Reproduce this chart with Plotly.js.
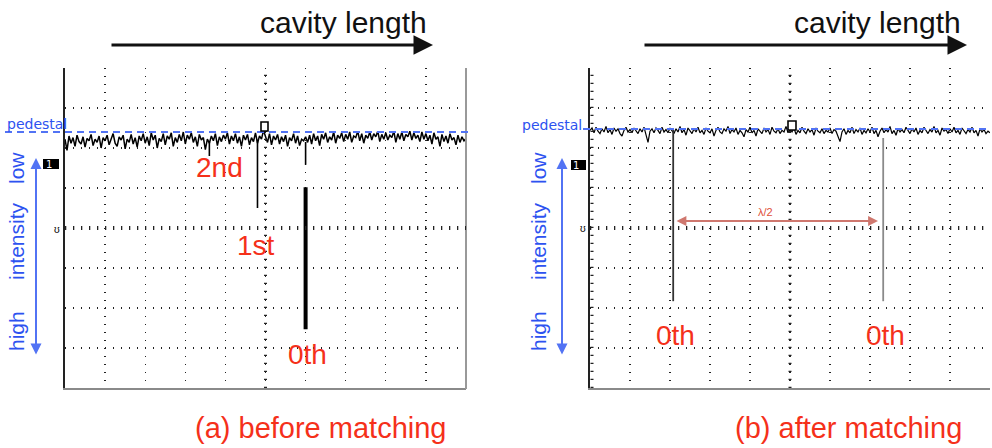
<!DOCTYPE html>
<html><head><meta charset="utf-8">
<script src="https://cdn.plot.ly/plotly-3.0.1.min.js"></script>
<style>html,body{margin:0;padding:0;background:#fff}#chart{width:992px;height:448px}</style>
</head><body><div id="chart"></div>
<script>
// ---------- data (oscilloscope divisions: x 0..10, y -4..4) ----------
const sampleStep = 0.05;
const traceBefore = [
 2.22,1.94,2.30,2.12,2.26,2.04,2.32,2.16,2.10,2.28,2.02,2.24,2.18,2.34,2.06,2.22,2.14,2.30,2.00,2.26,
 2.18,2.32,2.08,2.24,2.36,2.12,2.04,2.28,2.20,2.32,1.98,2.22,2.14,2.34,2.10,2.26,2.02,2.30,2.18,2.36,
 2.12,2.28,2.06,2.38,2.20,2.32,2.00,2.24,2.16,2.36,2.08,2.30,2.22,2.38,2.04,2.26,2.14,2.34,2.18,2.40,
 2.10,2.32,2.22,2.38,2.14,2.28,2.04,2.34,2.20,2.26,1.96,2.22,2.12,2.30,2.18,2.36,2.06,2.28,2.16,2.32,
 2.22,2.38,2.10,2.30,2.18,2.36,2.12,2.28,2.04,2.32,2.20,2.34,2.08,2.26,2.16,2.38,2.12,2.30,2.22,2.44,
 2.26,2.14,2.36,2.08,2.30,2.20,2.34,2.10,2.28,2.16,2.32,2.04,2.26,2.18,2.36,2.12,2.30,2.06,2.22,2.18,
 2.28,2.14,2.32,2.10,2.36,2.18,2.30,2.06,2.34,2.22,2.38,2.14,2.28,2.20,2.40,2.12,2.32,2.24,2.38,2.16,
 2.34,2.22,2.40,2.14,2.30,2.26,2.42,2.18,2.36,2.12,2.32,2.24,2.40,2.20,2.36,2.28,2.42,2.16,2.34,2.22,
 2.38,2.20,2.32,2.26,2.42,2.14,2.36,2.22,2.40,2.18,2.34,2.28,2.42,2.20,2.38,2.24,2.32,2.16,2.40,2.22,
 2.36,2.18,2.32,2.10,2.38,2.22,2.28,2.04,2.34,2.16,2.30,2.12,2.36,2.20,2.26,2.08,2.32,2.14,2.28,2.18,
 2.24
];
// resonance dips (before matching): 2nd, 1st, 0th (upper part), 0th (main)
const secondDipX = [3.6, 3.6];  const secondDipY = [2.15, 1.80];
const firstDipX  = [4.8, 4.8];  const firstDipY  = [2.20, 0.50];
const zerothTopX = [6.0, 6.0];  const zerothTopY = [2.15, 1.58];
const zerothBeforeX = [6.0, 6.0];
const zerothBeforeY = [1.02, -2.53];

const traceAfter = [
 2.44,2.50,2.38,2.52,2.42,2.36,2.48,2.40,2.54,2.38,2.46,2.34,2.50,2.42,2.48,2.36,2.30,2.44,2.52,2.40,
 2.46,2.38,2.50,2.42,2.36,2.48,2.40,2.52,2.34,2.14,2.42,2.48,2.38,2.50,2.44,2.36,2.52,2.40,2.46,2.38,
 2.50,2.42,2.36,2.48,2.40,2.54,2.38,2.46,2.32,2.50,2.42,2.36,2.48,2.40,2.52,2.38,2.44,2.34,2.50,2.42,
 2.38,2.48,2.30,2.44,2.52,2.40,2.36,2.48,2.42,2.54,2.36,2.46,2.40,2.50,2.34,2.44,2.38,2.28,2.46,2.40,
 2.52,2.38,2.44,2.30,2.48,2.42,2.36,2.50,2.40,2.46,2.34,2.52,2.42,2.38,2.48,2.36,2.44,2.40,2.54,2.38,
 2.46,2.40,2.50,2.34,2.44,2.38,2.52,2.42,2.36,2.48,2.40,2.46,2.32,2.50,2.42,2.38,2.48,2.36,2.44,2.40,
 2.50,2.36,2.46,2.42,2.30,2.16,2.40,2.48,2.34,2.44,2.38,2.52,2.36,2.46,2.40,2.50,2.34,2.44,2.38,2.48,
 2.40,2.52,2.36,2.44,2.28,2.42,2.50,2.38,2.46,2.40,2.54,2.36,2.44,2.32,2.48,2.40,2.46,2.38,2.52,2.42,
 2.36,2.48,2.40,2.50,2.34,2.44,2.38,2.52,2.42,2.36,2.46,2.40,2.54,2.38,2.44,2.32,2.50,2.42,2.46,2.36,
 2.48,2.40,2.52,2.38,2.44,2.34,2.50,2.42,2.36,2.46,2.40,2.52,2.38,2.44,2.30,2.48,2.40,2.46,2.36,2.42,
 2.38
];
const zerothAfterAX = [2.08, 2.08];
const zerothAfterAY = [2.45, -1.83];
const zerothAfterBX = [7.33, 7.33];
const zerothAfterBY = [2.25, -1.83];

const orderLabelsBefore = ["2nd", "1st", "0th"];
const orderLabelsAfter = ["0th", "0th"];
const panelTitles = ["(a) before matching", "(b) after matching"];
const topLabel = "cavity length";
const sideLabels = ["low", "intensity", "high"];

// ---------- layout helpers ----------
const W = 992, H = 448;
const px = v => v / W;
const py = v => 1 - v / H;
const RED = '#f5301a', BLUE = '#2d52f0', BLUE_ARROW = '#5273f4';
const FONT = 'Liberation Sans, Arial, sans-serif';

function seg(x, y, color, width, xa, ya) {
  return {x: x, y: y, type: 'scatter', mode: 'lines', line: {color: color, width: width}, xaxis: xa, yaxis: ya};
}
const traces = [
  {x0: 0, dx: sampleStep, y: traceBefore, type: 'scatter', mode: 'lines',
   line: {color: '#000', width: 1.5}, xaxis: 'x', yaxis: 'y'},
  seg(secondDipX, secondDipY, '#000', 1.6, 'x', 'y'),
  seg(firstDipX, firstDipY, '#000', 1.6, 'x', 'y'),
  seg(zerothTopX, zerothTopY, '#000', 1.6, 'x', 'y'),
  seg(zerothBeforeX, zerothBeforeY, '#000', 4, 'x', 'y'),
  {x0: 0, dx: sampleStep, y: traceAfter, type: 'scatter', mode: 'lines',
   line: {color: '#000', width: 1.2}, xaxis: 'x2', yaxis: 'y2'},
  seg(zerothAfterAX, zerothAfterAY, '#333', 1.8, 'x2', 'y2'),
  seg(zerothAfterBX, zerothAfterBY, '#8a8a8a', 1.8, 'x2', 'y2')
];

const gridCommon = {
  range: [0, 10], tickmode: 'linear', tick0: 0, dtick: 1,
  showticklabels: false, ticks: '', zeroline: false,
  showgrid: true, gridcolor: '#222', gridwidth: 1.3, griddash: '1.3px,6.7px',
  fixedrange: true
};
const yCommon = Object.assign({}, gridCommon, {range: [-4, 4], domain: [py(388), py(68)]});

const layout = {
  width: W, height: H, showlegend: false,
  margin: {l: 0, r: 0, t: 0, b: 0},
  paper_bgcolor: '#fff', plot_bgcolor: '#fff',
  xaxis: Object.assign({}, gridCommon, {domain: [px(65), px(466)], anchor: 'y',
    showline: true, linecolor: '#8a8a8a', linewidth: 2}),
  yaxis: Object.assign({}, yCommon, {anchor: 'x', showline: true, linecolor: '#222', linewidth: 2}),
  xaxis2: Object.assign({}, gridCommon, {domain: [px(590), px(990)], anchor: 'y2',
    showline: true, linecolor: '#8a8a8a', linewidth: 2}),
  yaxis2: Object.assign({}, yCommon, {anchor: 'x2', showline: true, linecolor: '#222', linewidth: 2}),
  shapes: [
    // right border of left screen
    {type: 'line', xref: 'paper', yref: 'paper', x0: px(466), x1: px(466), y0: py(68), y1: py(389),
     line: {color: '#999', width: 2}},
    // centre graticule ticks
    {type: 'line', xref: 'x', yref: 'y', x0: 5, x1: 5, y0: -4, y1: 4, line: {color: '#222', width: 3, dash: '1.3px,6.7px'}},
    {type: 'line', xref: 'x', yref: 'y', x0: 0, x1: 10, y0: 0, y1: 0, line: {color: '#222', width: 4, dash: '1.3px,6.7px'}},
    {type: 'line', xref: 'x2', yref: 'y2', x0: 5, x1: 5, y0: -4, y1: 4, line: {color: '#222', width: 3, dash: '1.3px,6.7px'}},
    {type: 'line', xref: 'x2', yref: 'y2', x0: 0, x1: 10, y0: 0, y1: 0, line: {color: '#222', width: 4, dash: '1.3px,6.7px'}},
    {type: 'line', xref: 'x2', yref: 'y2', x0: 0.05, x1: 0.05, y0: -4, y1: 4, line: {color: '#222', width: 3, dash: '1.3px,6.7px'}},
    // pedestal dashed lines
    {type: 'line', xref: 'paper', yref: 'paper', x0: px(5), x1: px(470), y0: py(132), y1: py(132),
     line: {color: BLUE_ARROW, width: 1.8, dash: '7px,5px'}, layer: 'above'},
    {type: 'line', xref: 'paper', yref: 'paper', x0: px(583), x1: px(990), y0: py(129), y1: py(129),
     line: {color: BLUE_ARROW, width: 1.8, dash: '7px,5px'}, layer: 'above'},
    // channel markers
    {type: 'rect', xref: 'paper', yref: 'paper', x0: px(43), x1: px(59), y0: py(169), y1: py(159),
     fillcolor: '#000', line: {width: 0}},
    {type: 'rect', xref: 'paper', yref: 'paper', x0: px(571), x1: px(586), y0: py(170), y1: py(160),
     fillcolor: '#000', line: {width: 0}},
    // trigger markers
    {type: 'rect', xref: 'paper', yref: 'paper', x0: px(261), x1: px(268), y0: py(131), y1: py(122),
     fillcolor: '#fff', line: {color: '#000', width: 1.6}, layer: 'above'},
    {type: 'rect', xref: 'paper', yref: 'paper', x0: px(788), x1: px(796), y0: py(130), y1: py(121),
     fillcolor: '#fff', line: {color: '#000', width: 1.6}, layer: 'above'}
  ],
  annotations: []
};

const A = layout.annotations;
function txt(text, x, y, size, color, extra) {
  A.push(Object.assign({text: text, xref: 'paper', yref: 'paper', x: px(x), y: py(y),
    xanchor: 'center', yanchor: 'middle', showarrow: false,
    font: {family: FONT, size: size, color: color}}, extra || {}));
}
function arrow(xTip, yTip, dxTail, dyTail, color, width, size, side) {
  A.push({text: '', xref: 'paper', yref: 'paper', x: px(xTip), y: py(yTip), axref: 'pixel', ayref: 'pixel',
    ax: dxTail, ay: dyTail, showarrow: true, arrowhead: 2, arrowsize: size, arrowwidth: width,
    arrowcolor: color, arrowside: side || 'end', standoff: 0, startstandoff: 0});
}

// top: cavity length
txt(topLabel, 343, 22, 30, '#111');
txt(topLabel, 877, 22, 30, '#111');
arrow(433, 45, -323, 0, '#111', 3, 1.3);
arrow(967, 45, -324, 0, '#111', 3, 1.3);

// pedestal
const pedFont = {family: 'DejaVu Sans, sans-serif', size: 14, color: BLUE};
txt('pedestal', 37, 124, 14, BLUE, {font: pedFont});
txt('pedestal', 552, 125, 14, BLUE, {font: pedFont});

// intensity axis labels and arrows
[16, 538].forEach(xc => {
  txt(sideLabels[0], xc, 168, 21, BLUE, {textangle: -90});
  txt(sideLabels[1], xc, 241, 21, BLUE, {textangle: -90});
  txt(sideLabels[2], xc, 331, 21, BLUE, {textangle: -90});
});
arrow(36, 158, 0, 198, BLUE_ARROW, 2, 1.1, 'end+start');
arrow(562, 158, 0, 198, BLUE_ARROW, 2, 1.1, 'end+start');

// channel marker glyphs
const chFont = {family: 'DejaVu Sans, sans-serif', size: 10, color: '#fff'};
txt('1', 49, 164, 10, '#fff', {font: chFont});
txt('1', 576, 165, 10, '#fff', {font: chFont});
txt('ʊ', 57, 229, 10, '#000');
txt('ʊ', 583, 228, 10, '#000');

// order labels
txt(orderLabelsBefore[0], 219, 167, 28, RED);
txt(orderLabelsBefore[1], 256, 245, 28, RED);
txt(orderLabelsBefore[2], 307, 354, 28, RED);
txt(orderLabelsAfter[0], 675, 335, 28, RED);
txt(orderLabelsAfter[1], 885, 335, 28, RED);

// lambda/2 arrow
arrow(878, 221, -203, 0, '#cf776e', 1.8, 1.1, 'end+start');
txt('λ/2', 765, 212, 11, '#e0503a');

// panel titles
txt(panelTitles[0], 320, 428, 29, RED);
txt(panelTitles[1], 848, 428, 29, RED);

Plotly.newPlot('chart', traces, layout, {staticPlot: true, displayModeBar: false});
</script></body></html>
